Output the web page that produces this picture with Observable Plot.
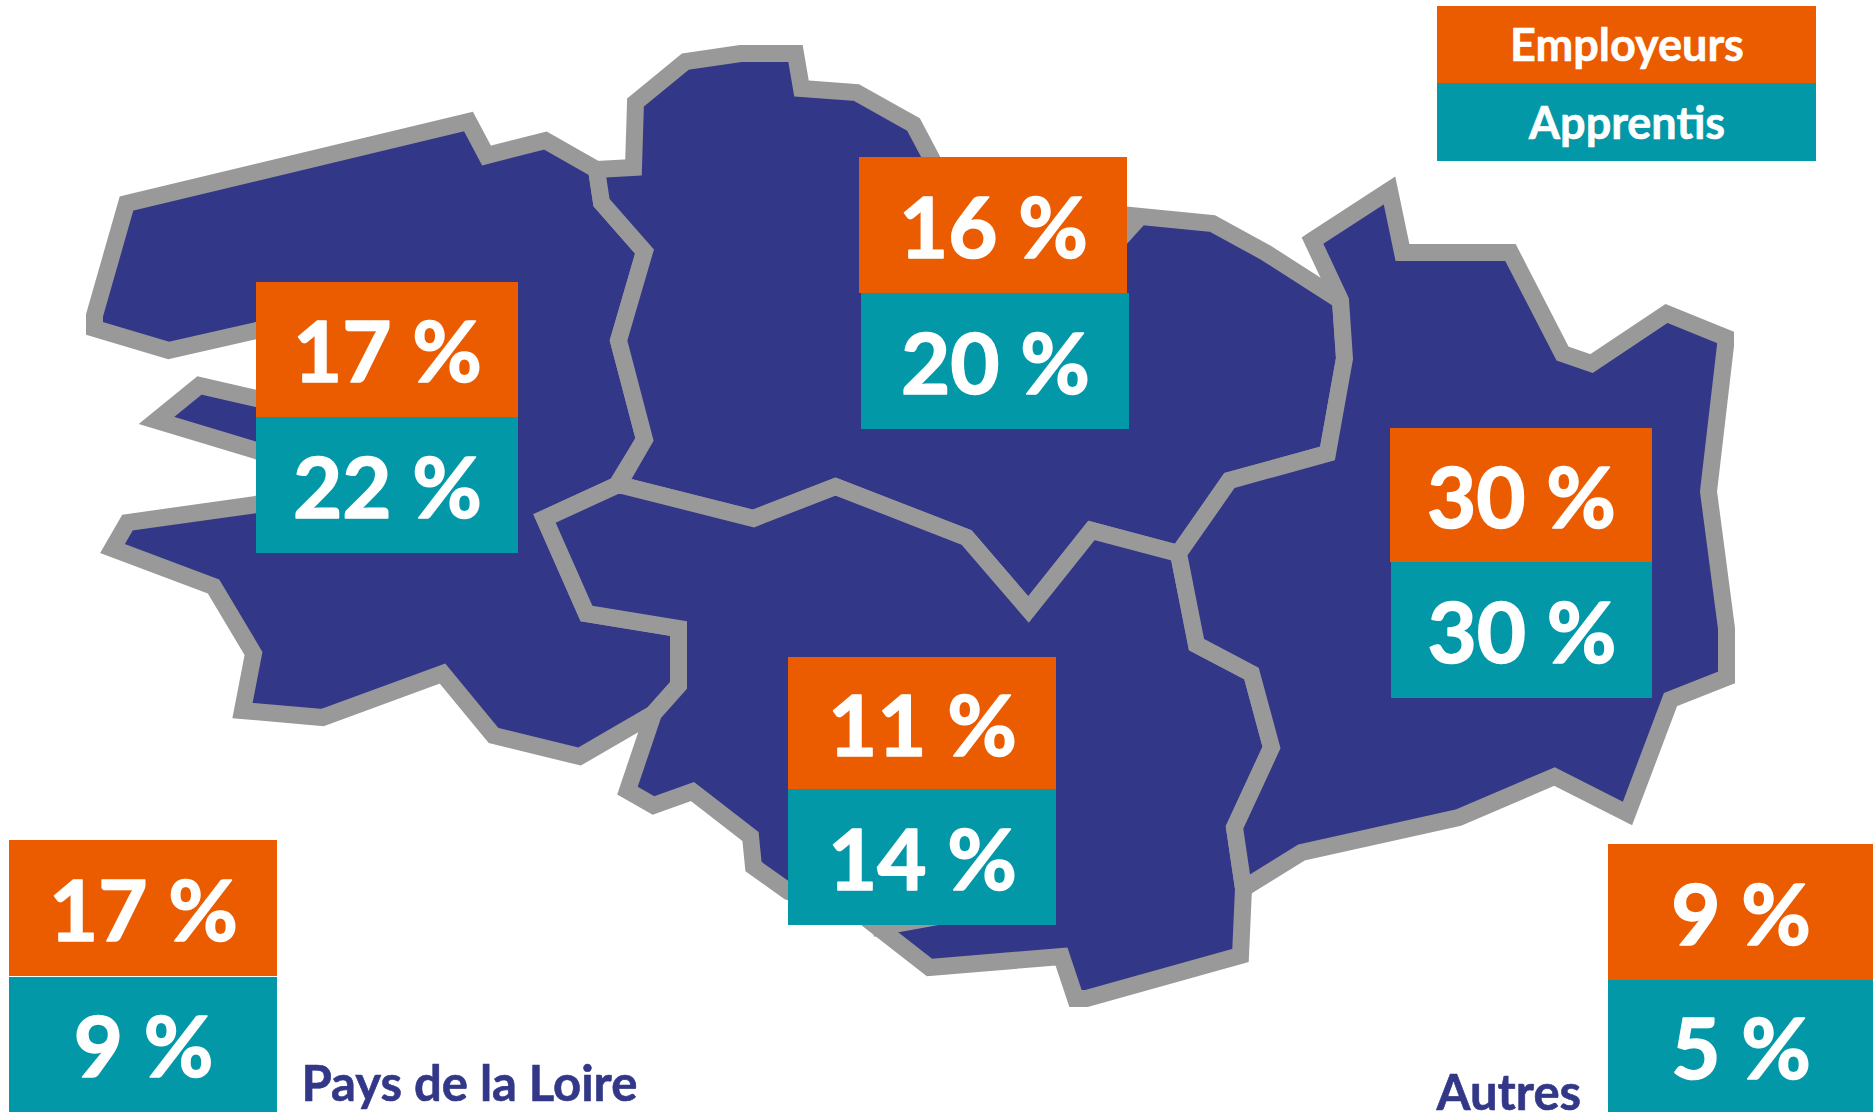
<!DOCTYPE html>
<html lang="fr">
<head>
<meta charset="utf-8">
<title>Employeurs et apprentis par territoire</title>
<script src="https://cdn.jsdelivr.net/npm/d3@7"></script>
<script src="https://cdn.jsdelivr.net/npm/@observablehq/plot@0.6"></script>
<style>
  html, body { margin: 0; padding: 0; background: #fff; overflow: hidden; }
  svg { display: block; }
</style>
</head>
<body>
<div id="chart"></div>
<script>
// Map outlines (x, y in picture units)
const westRing = [[126,203],[468,121],[486,155],[545,140],[596,169],[601,202],[644,251],[618,340],[644,439],[616,485],[544,518],[586,613],[678,628],[678,685],[653,713],[579,756],[493,735],[442,673],[322,717],[242,710],[253,653],[213,586],[112,548],[127,522],[256,504],[320,480],[256,450],[156,420],[199,385],[256,398],[320,400],[320,340],[256,330],[168,350],[94,328],[94,315]];
const northRing = [[596,169],[633,167],[635,102],[685,61],[740,53],[795,53],[801,88],[856,92],[913,124],[940,175],[960,205],[1100,212],[1212,223],[1265,252],[1340,300],[1344,358],[1327,453],[1229,480],[1178,553],[1091,530],[1028,609],[966,537],[835,486],[753,518],[618,484],[644,439],[618,340],[644,251],[601,202]];
const southRing = [[618,484],[753,518],[835,486],[966,537],[1028,609],[1091,530],[1178,553],[1196,644],[1251,673],[1271,747],[1234,827],[1243,888],[1240,955],[1086,998],[1075,998],[1061,956],[929,967],[861,914],[788,891],[753,866],[750,836],[692,791],[653,805],[627,790],[653,713],[678,685],[678,628],[586,613],[544,518]];
const eastRing = [[1312,240],[1389,190],[1402,252],[1510,252],[1562,353],[1591,363],[1666,313],[1725,337],[1725,345],[1708,491],[1726,628],[1726,677],[1670,699],[1627,813],[1554,776],[1458,817],[1301,852],[1243,888],[1234,827],[1271,747],[1251,673],[1196,644],[1178,553],[1229,480],[1327,453],[1344,358],[1340,300]];
const borderStubA = [[872,928],[960,912]];
const borderStubB = [[1118,240],[1137,219]];

// Values
const areas = ["Ouest", "Nord", "Est", "Sud", "Pays de la Loire", "Autres"];
const employeurs = [17, 16, 30, 11, 17, 9];
const apprentis = [22, 20, 30, 14, 9, 5];
const legendLabels = ["Employeurs", "Apprentis"];
const captions = ["Pays de la Loire", "Autres"];

// Layout of the label blocks: [x1, x2, y1, y2] for the two cells of each area
const orangeBoxes = [[256,518,282,417],[859,1127,157,293],[1390,1652,428,562],[788,1056,657,789],[9,277,840,976],[1608,1873,844,980]];
const tealBoxes = [[256,518,417,553],[861,1129,293,429],[1391,1652,562,698],[788,1056,789,925],[9,277,977,1112],[1608,1873,980,1112]];
const legendBoxes = [[1437,1816,6,83],[1437,1816,83,161]];
const captionPositions = [[301,1100],[1436,1109]];

const NAVY = "#323788", GRAY = "#999999", ORANGE = "#EB5B00", TEAL = "#0398A8";
const FONT = "Lato, Carlito, sans-serif";

const rings = [["west", westRing], ["north", northRing], ["south", southRing], ["east", eastRing]]
  .flatMap(([name, pts]) => pts.map(([x, y]) => ({name, x, y})));
const border = [["a", borderStubA], ["b", borderStubB]]
  .flatMap(([name, pts]) => pts.map(([x, y]) => ({name, x, y})));

const cell = (b, v, name) => ({x1: b[0], x2: b[1], y1: b[2], y2: b[3], xc: (b[0] + b[1]) / 2, yc: (b[2] + b[3]) / 2, v, name});
const orangeCells = orangeBoxes.map((b, i) => cell(b, `${employeurs[i]} %`, areas[i]));
const tealCells = tealBoxes.map((b, i) => cell(b, `${apprentis[i]} %`, areas[i]));
const legendCells = legendBoxes.map((b, i) => cell(b, legendLabels[i], legendLabels[i]));
const captionRows = captions.map((t, i) => ({t, x: captionPositions[i][0], y: captionPositions[i][1]}));

const lineStyle = {x: "x", y: "y", stroke: GRAY, strokeWidth: 17, strokeLinejoin: "miter", strokeLinecap: "butt", strokeMiterlimit: 10, strokeOpacity: 1};

const chart = Plot.plot({
  width: 1873,
  height: 1112,
  margin: 0,
  style: {background: "#fff"},
  x: {domain: [0, 1873], range: [0, 1873], axis: null},
  y: {domain: [0, 1112], range: [0, 1112], axis: null},
  marks: [
    Plot.line(rings, {...lineStyle, z: "name", curve: "linear-closed", fill: NAVY}),
    Plot.line(border, {...lineStyle, z: "name"}),
    Plot.rect(orangeCells, {x1: "x1", x2: "x2", y1: "y1", y2: "y2", fill: ORANGE}),
    Plot.rect(tealCells, {x1: "x1", x2: "x2", y1: "y1", y2: "y2", fill: TEAL}),
    Plot.rect(legendCells, {x1: "x1", x2: "x2", y1: "y1", y2: "y2", fill: (d, i) => i === 0 ? ORANGE : TEAL}),
    Plot.text([...orangeCells, ...tealCells], {x: "xc", y: "yc", dy: 5, text: "v", fill: "#fff", stroke: "#fff", strokeWidth: 1.6, fontFamily: FONT, fontWeight: 700, fontSize: 85, textAnchor: "middle", lineAnchor: "middle"}),
    Plot.text(legendCells, {x: "xc", y: "yc", dy: 2, text: "v", fill: "#fff", stroke: "#fff", strokeWidth: 0.6, fontFamily: FONT, fontWeight: 700, fontSize: 45, textAnchor: "middle", lineAnchor: "middle"}),
    Plot.text(captionRows, {x: "x", y: "y", text: "t", fill: NAVY, stroke: NAVY, strokeWidth: 0.6, fontFamily: FONT, fontWeight: 700, fontSize: 49, textAnchor: "start", lineAnchor: "bottom", dy: 0})
  ]
});
document.getElementById("chart").appendChild(chart);
</script>
</body>
</html>
